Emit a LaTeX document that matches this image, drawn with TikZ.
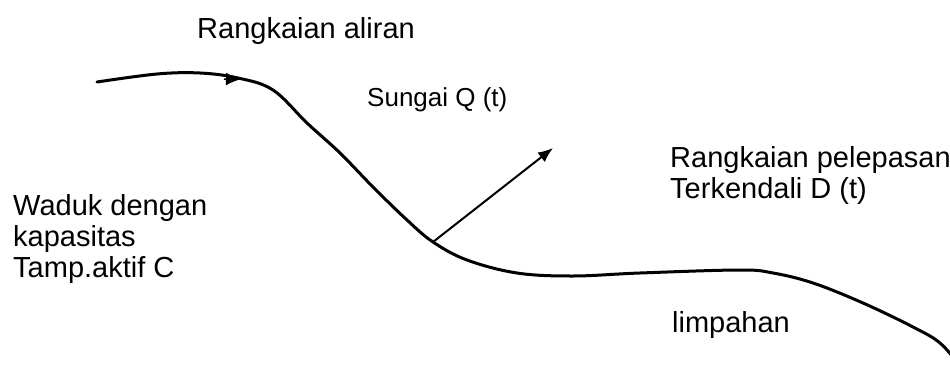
\documentclass[tikz,border=0pt]{standalone}
\usepackage{fontspec}
\setmainfont{Liberation Sans}
\usetikzlibrary{arrows.meta}
\begin{document}
\begin{tikzpicture}[x=1pt,y=-1pt,
  lbl/.style={inner sep=0pt, anchor=base west, align=left, font=\fontsize{29}{31}\selectfont},
  smalllbl/.style={inner sep=0pt, anchor=base west, font=\fontsize{26}{28}\selectfont},
  river/.style={line width=3pt, line cap=round},
  outflow/.style={line width=2pt, -{Latex[length=15pt,width=12pt]}}]
\useasboundingbox (0,0) rectangle (950,364);
\node[lbl] (inflow) at (197,38) {Rangkaian aliran};
\node[smalllbl] (sungai) at (367,106) {Sungai Q (t)};
\node[lbl] (waduk) at (13,277) {Waduk dengan\\kapasitas\\Tamp.aktif C};
\node[lbl] (release) at (670,198) {Rangkaian pelepasan\\Terkendali D (t)};
\node[lbl] (spill) at (672,332) {limpahan};
\draw[river] plot[smooth, tension=0.6] coordinates {
 (97,82) (157,74) (200,73) (238,78) (273,90) (307,123) (340,153) (373,187)
 (407,220) (433,242) (467,260) (517,273) (573,276) (640,273) (740,270)
 (773,273) (813,283) (863,303) (913,327) (940,343) (960,366)};
\coordinate (arrA) at (224,79);
\coordinate (arrB) at (240,79.5);
\draw[line width=1.5pt, -{Latex[length=14pt,width=13pt]}] (arrA) -- (arrB);
\coordinate (branch) at (433,242);
\coordinate (tip) at (553,148);
\draw[outflow] (branch) -- (tip);
\end{tikzpicture}
\end{document}
